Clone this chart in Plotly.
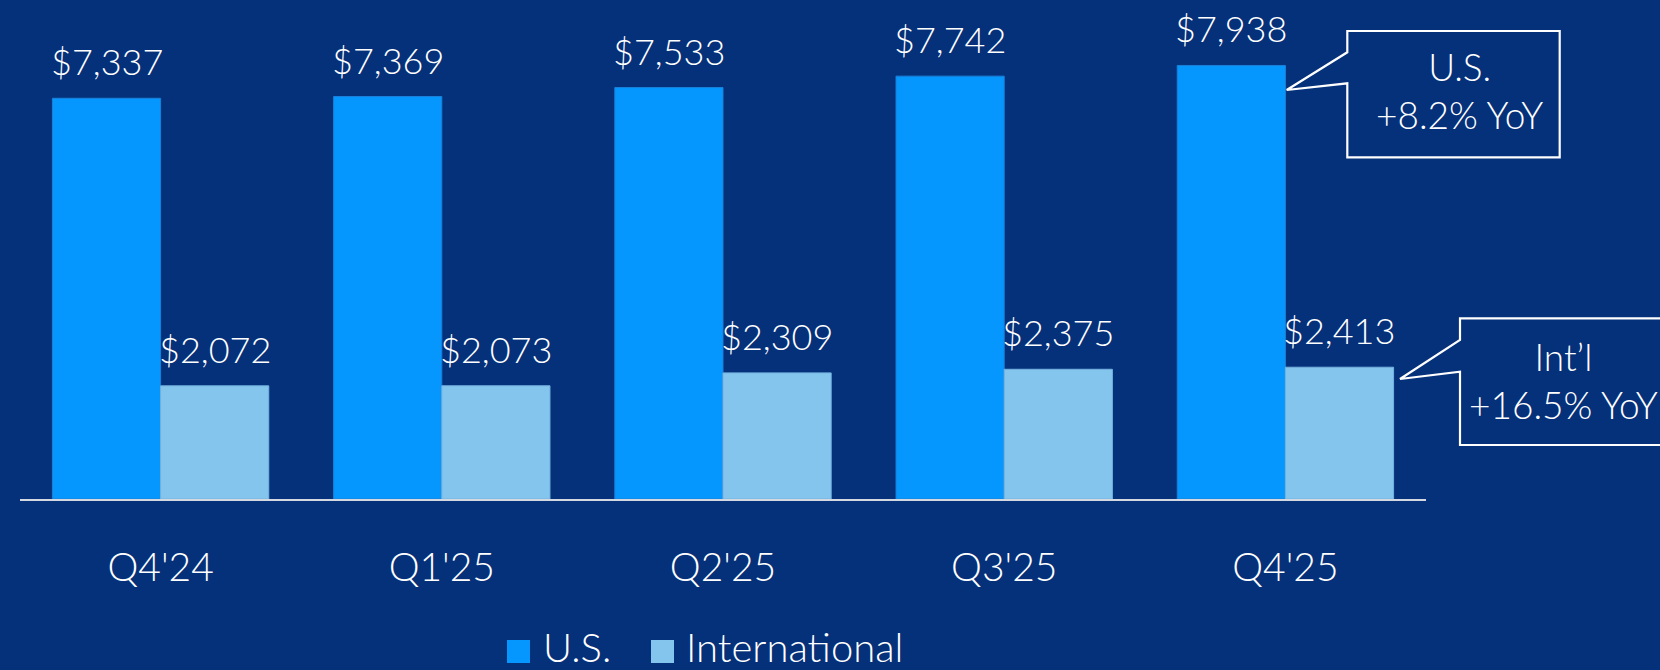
import plotly.graph_objects as go

# ---- data ----
quarters = ["Q4'24", "Q1'25", "Q2'25", "Q3'25", "Q4'25"]
us_values = [7337, 7369, 7533, 7742, 7938]
intl_values = [2072, 2073, 2309, 2375, 2413]
series_names = ["U.S.", "International"]
us_callout = ["U.S.", "+8.2% YoY"]
intl_callout = ["Int’l", "+16.5% YoY"]

# ---- style ----
BG = "#05307A"
US_COLOR = "#0597FE"
INTL_COLOR = "#84C5EE"
AXIS_COLOR = "#D4D8E0"
FONT = "Lato, 'Noto Sans', sans-serif"
WEIGHT = 300

W, H = 1660, 670
ML, MR, MT, MB = 20, 234, 20, 171
PW, PH = W - ML - MR, H - MT - MB
Y_MAX = 8770


def px2x(px):
    return (px - ML) / PW


def px2y(py):
    return (H - MB - py) / PH


def font(size):
    return dict(family=FONT, size=size, color="white", weight=WEIGHT)


fig = go.Figure()
fig.add_trace(go.Bar(x=quarters, y=us_values, name=series_names[0],
                     marker=dict(color=US_COLOR, line=dict(color="#1C80D8", width=1)),
                     showlegend=False, hoverinfo="x+y"))
fig.add_trace(go.Bar(x=quarters, y=intl_values, name=series_names[1],
                     marker=dict(color=INTL_COLOR, line=dict(color="#74B2DE", width=1)),
                     showlegend=False, hoverinfo="x+y"))

annotations = []
half = PW / len(quarters) * (1 - 0.2306) / 4  # offset of each bar centre in the group
for q, v in zip(quarters, us_values):
    annotations.append(dict(x=q, y=v, xref="x", yref="y", text=f"${v:,}", showarrow=False,
                            xshift=-half, yshift=13, yanchor="bottom", font=font(36)))
for q, v in zip(quarters, intl_values):
    annotations.append(dict(x=q, y=v, xref="x", yref="y", text=f"${v:,}", showarrow=False,
                            xshift=half, yshift=13, yanchor="bottom", font=font(36)))

# callout texts
annotations.append(dict(x=px2x(1459), y=px2y(90), xref="paper", yref="paper",
                        text="<br>".join(us_callout), showarrow=False, align="center",
                        xanchor="center", yanchor="middle", font=font(37)))
annotations.append(dict(x=px2x(1563), y=px2y(380), xref="paper", yref="paper",
                        text="<br>".join(intl_callout), showarrow=False, align="center",
                        xanchor="center", yanchor="middle", font=font(37)))

# custom legend labels
legend_items = [(series_names[0], US_COLOR, 507, 543), (series_names[1], INTL_COLOR, 651, 686)]
shapes = []
for name, col, sq_x, tx_x in legend_items:
    shapes.append(dict(type="rect", xref="paper", yref="paper",
                       x0=px2x(sq_x), x1=px2x(sq_x + 23), y0=px2y(663), y1=px2y(640),
                       fillcolor=col, line=dict(width=0)))
    annotations.append(dict(x=px2x(tx_x - 2), y=px2y(647), xref="paper", yref="paper",
                            text=name, showarrow=False, xanchor="left", yanchor="middle",
                            font=font(40)))


def callout_path(pts):
    return "M " + " L ".join(f"{px2x(a):.5f},{px2y(b):.5f}" for a, b in pts) + " Z"


us_box = [(1347.3, 52.3), (1347.3, 31), (1559.7, 31), (1559.7, 157.3), (1347.3, 157.3),
          (1347.3, 83.3), (1286.7, 90)]
intl_box = [(1460, 340), (1460, 318.3), (1675, 318.3), (1675, 445), (1460, 445),
            (1460, 371.7), (1400, 379)]
for pts in (us_box, intl_box):
    shapes.append(dict(type="path", xref="paper", yref="paper", path=callout_path(pts),
                       line=dict(color="white", width=2.2), fillcolor="rgba(0,0,0,0)"))

fig.update_layout(
    width=W, height=H,
    margin=dict(l=ML, r=MR, t=MT, b=MB, autoexpand=False),
    paper_bgcolor=BG, plot_bgcolor=BG,
    barmode="group", bargap=0.2306, bargroupgap=0,
    font=font(36),
    annotations=annotations, shapes=shapes,
    showlegend=False,
)
fig.update_xaxes(showline=True, linecolor=AXIS_COLOR, linewidth=2, ticks="",
                 showgrid=False, tickfont=font(39),
                 ticklabelstandoff=33, range=[-0.5, 4.5], fixedrange=True)
fig.update_yaxes(visible=False, range=[0, Y_MAX], showgrid=False, zeroline=False, fixedrange=True)

fig.write_html("out.html", config={"displayModeBar": False},
               post_script="document.body.style.margin='0';document.body.style.background='%s';"
                           "document.body.style.overflow='hidden';" % BG)
